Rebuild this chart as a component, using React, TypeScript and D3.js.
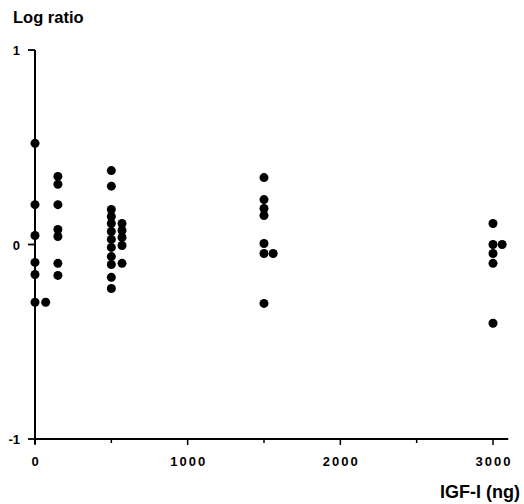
import React from "react";
import * as d3 from "d3";

const doses = [
  0, 0, 0, 0, 0, 0, 70,
  150, 150, 150, 150, 150, 150, 150,
  500, 500, 500, 500, 500, 500, 500, 500, 500, 500, 500, 500,
  570, 570, 570, 570, 570,
  1500, 1500, 1500, 1500, 1500, 1500, 1500, 1560,
  3000, 3000, 3000, 3000, 3000, 3060,
];
const logRatios = [
  0.52, 0.205, 0.046, -0.092, -0.154, -0.297, -0.297,
  0.35, 0.31, 0.205, 0.077, 0.041, -0.097, -0.159,
  0.38, 0.3, 0.18, 0.144, 0.108, 0.067, 0.026, -0.015, -0.062, -0.103, -0.169, -0.226,
  0.108, 0.072, 0.036, -0.005, -0.097,
  0.344, 0.231, 0.185, 0.149, 0.005, -0.046, -0.303, -0.046,
  0.108, 0.0, -0.046, -0.097, -0.405, 0.0,
];
const xTicksMajor = [0, 1000, 2000, 3000];
const xTicksMinor = [500, 1500, 2500];
const yTicks = [1, 0, -1];

export default function App() {
  const W = 524, H = 504;
  const x = d3.scaleLinear().domain([0, 3000]).range([35, 493]);
  const y = d3.scaleLinear().domain([-1, 1]).range([439, 50]);
  const font = "'Liberation Sans', Arial, Helvetica, sans-serif";
  return (
    <svg width={W} height={H} style={{ position: "absolute", left: 0, top: 0, background: "#fff" }}>
      <text x={13} y={23} fontFamily={font} fontWeight="bold" fontSize={16.5}>Log ratio</text>
      {/* y axis */}
      <line x1={x(0)} x2={x(0)} y1={y(1)} y2={y(-1) + 5} stroke="#000" strokeWidth={2} />
      {yTicks.map((t) => (
        <g key={t}>
          <line x1={x(0) - 7} x2={x(0)} y1={y(t)} y2={y(t)} stroke="#000" strokeWidth={1.8} />
          <text x={20} y={y(t) + 5} textAnchor="end" fontFamily={font} fontWeight="bold" fontSize={13}>{t}</text>
        </g>
      ))}
      {/* x axis */}
      <line x1={x(0)} x2={x(3100)} y1={y(-1)} y2={y(-1)} stroke="#000" strokeWidth={2} />
      {xTicksMajor.map((t) => (
        <g key={t}>
          <line x1={x(t)} x2={x(t)} y1={y(-1)} y2={y(-1) + 6} stroke="#000" strokeWidth={1.5} />
          <text x={x(t) + 1} y={y(-1) + 27} textAnchor="middle" fontFamily={font} fontWeight="bold" fontSize={13} letterSpacing={2}>{t}</text>
        </g>
      ))}
      {xTicksMinor.map((t) => (
        <line key={t} x1={x(t)} x2={x(t)} y1={y(-1)} y2={y(-1) + 4} stroke="#000" strokeWidth={1.5} />
      ))}
      <text x={520} y={498} textAnchor="end" fontFamily={font} fontWeight="bold" fontSize={18}>IGF-I (ng)</text>
      {doses.map((d, i) => (
        <circle key={i} cx={x(d)} cy={y(logRatios[i])} r={4.5} fill="#000" />
      ))}
    </svg>
  );
}
